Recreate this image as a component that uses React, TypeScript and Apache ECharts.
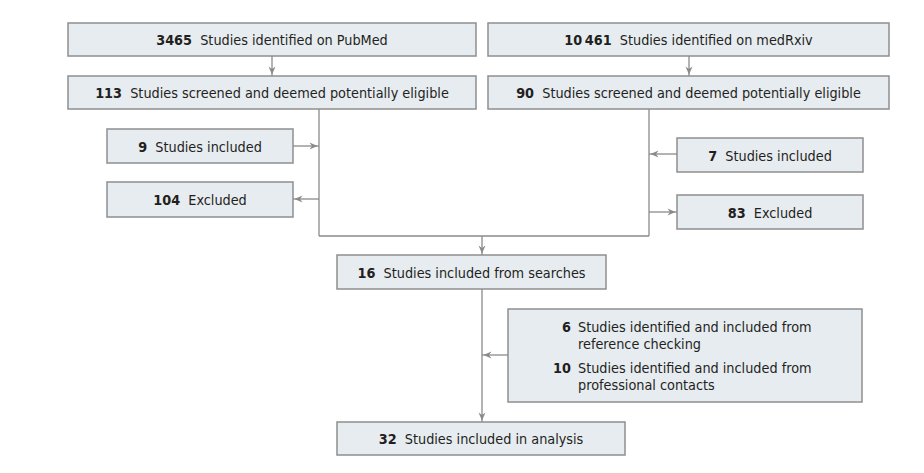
import React, { useEffect, useRef } from "react";
import * as echarts from "echarts";

// Flowchart content
const boxNumbers = ["3465", "10\u2009461", "113", "90", "9", "104", "7", "83", "16", "32"];
const boxLabels = [
  "Studies identified on PubMed",
  "Studies identified on medRxiv",
  "Studies screened and deemed potentially eligible",
  "Studies screened and deemed potentially eligible",
  "Studies included",
  "Excluded",
  "Studies included",
  "Excluded",
  "Studies included from searches",
  "Studies included in analysis",
];
const extraNumbers = ["6", "10"];
const extraLabels = [
  ["Studies identified and included from", "reference checking"],
  ["Studies identified and included from", "professional contacts"],
];

// Layout (pixel positions of boxes: [x0, y0, x1, y1])
const boxRects = [
  [68, 23, 476, 56],
  [488, 23, 889, 56],
  [68, 76, 476, 109],
  [488, 76, 889, 109],
  [107, 129, 293, 163],
  [107, 182, 293, 217],
  [677, 138, 863, 172],
  [677, 195, 863, 229],
  [337, 255, 606, 289],
  [337, 422, 625, 455],
];
const bigRect = [508, 309, 862, 402];

const FONT = "'Liberation Sans Narrow', 'DejaVu Sans Condensed', 'Noto Sans', sans-serif";
const TEXT = "#231f20";
const LINE = "#8a8a8a";
const FILL = "#e7ecf1";
const BORDER = "#8f8f8f";
const FS = 14.3;

function arrow(x1: number, y1: number, x2: number, y2: number, head = true): any[] {
  const els: any[] = [
    { type: "line", shape: { x1, y1, x2, y2 }, style: { stroke: LINE, lineWidth: 1.3 }, silent: true },
  ];
  if (head) {
    const dx = x2 - x1, dy = y2 - y1;
    const len = Math.sqrt(dx * dx + dy * dy);
    const ux = dx / len, uy = dy / len;
    const tipX = x2 - ux * 1.5, tipY = y2 - uy * 1.5;
    const L = 8, W = 3.5;
    const bx = tipX - ux * L, by = tipY - uy * L;
    const px = -uy, py = ux;
    els.push({
      type: "polygon",
      shape: {
        points: [
          [tipX, tipY],
          [bx + px * W, by + py * W],
          [bx + ux * 2.5, by + uy * 2.5],
          [bx - px * W, by - py * W],
        ],
      },
      style: { fill: LINE },
      silent: true,
    });
  }
  return els;
}

function box(r: number[]): any {
  return {
    type: "rect",
    shape: { x: r[0], y: r[1], width: r[2] - r[0], height: r[3] - r[1] },
    style: { fill: FILL, stroke: BORDER, lineWidth: 1.5 },
    silent: true,
  };
}

export default function App() {
  const ref = useRef<HTMLDivElement>(null);
  useEffect(() => {
    if (!ref.current) return;
    const chart = echarts.init(ref.current, undefined, { renderer: "svg" });
    const els: any[] = [];

    // connectors
    els.push(...arrow(272, 56, 272, 76));
    els.push(...arrow(689, 56, 689, 76));
    els.push(...arrow(319, 109, 319, 236, false));
    els.push(...arrow(649, 109, 649, 236, false));
    els.push(...arrow(319, 236, 649, 236, false));
    els.push(...arrow(293, 146, 319, 146));
    els.push(...arrow(319, 199, 293, 199));
    els.push(...arrow(677, 154, 649, 154));
    els.push(...arrow(649, 212, 677, 212));
    els.push(...arrow(482, 236, 482, 255));
    els.push(...arrow(482, 289, 482, 422));
    els.push(...arrow(508, 355, 482, 355));

    // boxes
    boxRects.forEach((r, i) => {
      els.push(box(r));
      els.push({
        type: "text",
        x: (r[0] + r[2]) / 2,
        y: (r[1] + r[3]) / 2 + 0.5,
        silent: true,
        style: {
          text: `{b|${boxNumbers[i]}}  {n|${boxLabels[i]}}`,
          align: "center",
          verticalAlign: "middle",
          fontFamily: FONT,
          fontSize: FS,
          fill: TEXT,
          rich: {
            b: { fontFamily: FONT, fontSize: FS, fontWeight: "bold", fill: TEXT },
            n: { fontFamily: FONT, fontSize: FS, fill: TEXT },
          },
        },
      });
    });

    // big box
    els.push(box(bigRect));
    const firstLineY = [327, 368];
    const LH = 16.5;
    extraNumbers.forEach((num, i) => {
      els.push({
        type: "text",
        x: 571,
        y: firstLineY[i],
        silent: true,
        style: {
          text: num,
          align: "right",
          verticalAlign: "middle",
          fontFamily: FONT,
          fontSize: FS,
          fontWeight: "bold",
          fill: TEXT,
        },
      });
      els.push({
        type: "text",
        x: 578,
        y: firstLineY[i] - LH / 2,
        silent: true,
        style: {
          text: extraLabels[i].join("\n"),
          align: "left",
          verticalAlign: "top",
          lineHeight: LH,
          fontFamily: FONT,
          fontSize: FS,
          fill: TEXT,
        },
      });
    });

    chart.setOption({
      animation: false,
      backgroundColor: "#ffffff",
      graphic: { elements: els },
    });
    return () => chart.dispose();
  }, []);
  return (
    <div
      ref={ref}
      style={{ position: "fixed", left: 0, top: 0, width: 924, height: 473 }}
    />
  );
}
